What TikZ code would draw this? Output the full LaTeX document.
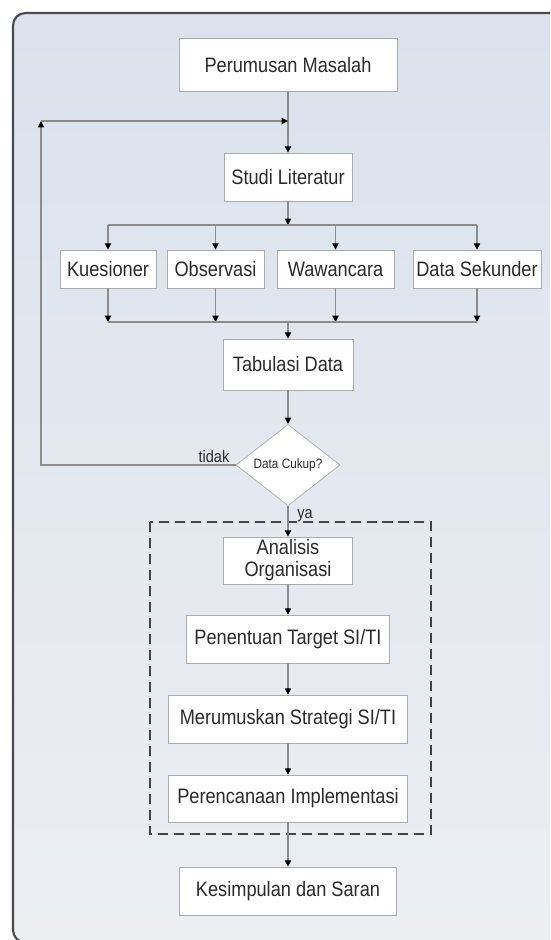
\documentclass[tikz,border=0pt]{standalone}
\usepackage{fontspec}
\setmainfont{Liberation Sans}[FakeStretch=0.87]
\usetikzlibrary{calc}
\usetikzlibrary{arrows.meta}
\usetikzlibrary{shapes.geometric}
\definecolor{bgTop}{HTML}{DBE2ED}
\definecolor{bgBottom}{HTML}{ECEEF2}
\definecolor{frameGray}{HTML}{4A4A4A}
\definecolor{boxGray}{HTML}{ABABAB}
\definecolor{lineGray}{HTML}{8C8C8C}
\definecolor{textGray}{HTML}{2B2B2B}
\definecolor{dashGray}{HTML}{444444}
\tikzset{
  block/.style = {draw=boxGray, fill=white, text=textGray, inner sep=0pt, minimum height=0.96cm, align=center, font=\fontsize{11.9}{12.5}\selectfont},
  decision/.style = {diamond, draw=boxGray, fill=white, text=textGray, inner sep=0pt, minimum width=2.08cm, minimum height=1.40cm, font=\fontsize{7.7}{9}\selectfont},
  flow/.style = {color=#1, line width=0.6pt, -{Triangle[length=3.6pt, width=3.6pt, color=black]}},
  guide/.style = {color=#1, line width=0.6pt},
  stage/.style = {color=#1, line width=1.1pt, dash pattern=on 5.7pt off 3.4pt},
  tag/.style = {text=textGray, inner sep=0pt, font=\fontsize{9.5}{11}\selectfont}
}

\begin{document}
\begin{tikzpicture}

    \def\cx{5.76}

    % Frame
    \useasboundingbox (0,0) rectangle (11,-18.8);
    \fill[white] (0,0) rectangle (11,-18.8);
    \begin{scope}
      \clip (0,0) rectangle (11,-18.8);
      \shade[top color=bgTop, bottom color=bgBottom, draw=frameGray, line width=1.2pt, rounded corners=0.25cm] (0.26,-0.26) rectangle (11.5,-18.85);
    \end{scope}

    % Coordinates
    \coordinate (split) at (\cx,-4.50);
    \coordinate (merge) at (\cx,-6.44);
    \coordinate (loopCorner) at (0.82,-2.42);
    \coordinate (loopEnd) at (\cx,-2.42);
    \coordinate (stageNW) at (3.0,-10.44);
    \coordinate (stageSE) at (8.62,-16.68);

    % Analysis group
    \draw[stage={dashGray}] (stageNW) rectangle (stageSE);

    % Steps
    \node[block, minimum width=4.36cm, minimum height=1.06cm] (masalah) at (\cx,-1.30) {Perumusan Masalah};
    \node[block, minimum width=2.56cm] (literatur) at (\cx,-3.54) {Studi Literatur};
    \node[block, minimum width=1.92cm, minimum height=0.76cm] (kuesioner) at (2.16,-5.38) {Kuesioner};
    \node[block, minimum width=1.94cm, minimum height=0.76cm] (observasi) at (4.31,-5.38) {Observasi};
    \node[block, minimum width=2.34cm, minimum height=0.76cm] (wawancara) at (6.71,-5.38) {Wawancara};
    \node[block, minimum width=2.56cm, minimum height=0.76cm] (sekunder) at (9.54,-5.38) {Data Sekunder};
    \node[block, minimum width=2.60cm, minimum height=1.02cm] (tabulasi) at (\cx,-7.29) {Tabulasi Data};
    \node[decision] (cukup) at (\cx,-9.30) {Data Cukup?};
    \node[block, minimum width=2.58cm, minimum height=0.94cm] (organisasi) at (\cx,-11.21) {Analisis\\Organisasi};
    \node[block, minimum width=4.06cm] (target) at (\cx,-12.78) {Penentuan Target SI/TI};
    \node[block, minimum width=4.78cm] (strategi) at (\cx,-14.38) {Merumuskan Strategi SI/TI};
    \node[block, minimum width=4.78cm, minimum height=0.94cm] (implementasi) at (\cx,-15.97) {Perencanaan Implementasi};
    \node[block, minimum width=4.34cm] (saran) at (\cx,-17.82) {Kesimpulan dan Saran};

    % Flow
    \draw[flow={lineGray}] (masalah) -- (literatur);
    \draw[flow={lineGray}] (literatur) -- (split);
    \draw[guide={lineGray}] (kuesioner.north |- split) -- (sekunder.north |- split);
    \foreach \n in {kuesioner, observasi, wawancara, sekunder} {
        \draw[flow={lineGray}] (\n.north |- split) -- (\n.north);
        \draw[flow={lineGray}] (\n.south) -- (\n.south |- merge);
    }
    \draw[guide={lineGray}] (kuesioner.south |- merge) -- (sekunder.south |- merge);
    \draw[flow={lineGray}] (merge) -- (tabulasi);
    \draw[flow={lineGray}] (tabulasi) -- (cukup);
    \draw[flow={lineGray}] (cukup) -- (organisasi);
    \draw[flow={lineGray}] (organisasi) -- (target);
    \draw[flow={lineGray}] (target) -- (strategi);
    \draw[flow={lineGray}] (strategi) -- (implementasi);
    \draw[flow={lineGray}] (implementasi) -- (saran);

    % Loop back
    \draw[flow={lineGray}] (cukup.west) -| (loopCorner);
    \draw[flow={lineGray}] (loopCorner) -- (loopEnd);

    % Labels
    \node[tag, anchor=base east] (tidak) at ([xshift=-0.12cm, yshift=0.05cm]cukup.west) {tidak};
    \node[tag, anchor=base west] (ya) at ([xshift=0.18cm, yshift=-0.25cm]cukup.south) {ya};

\end{tikzpicture}
\end{document}
